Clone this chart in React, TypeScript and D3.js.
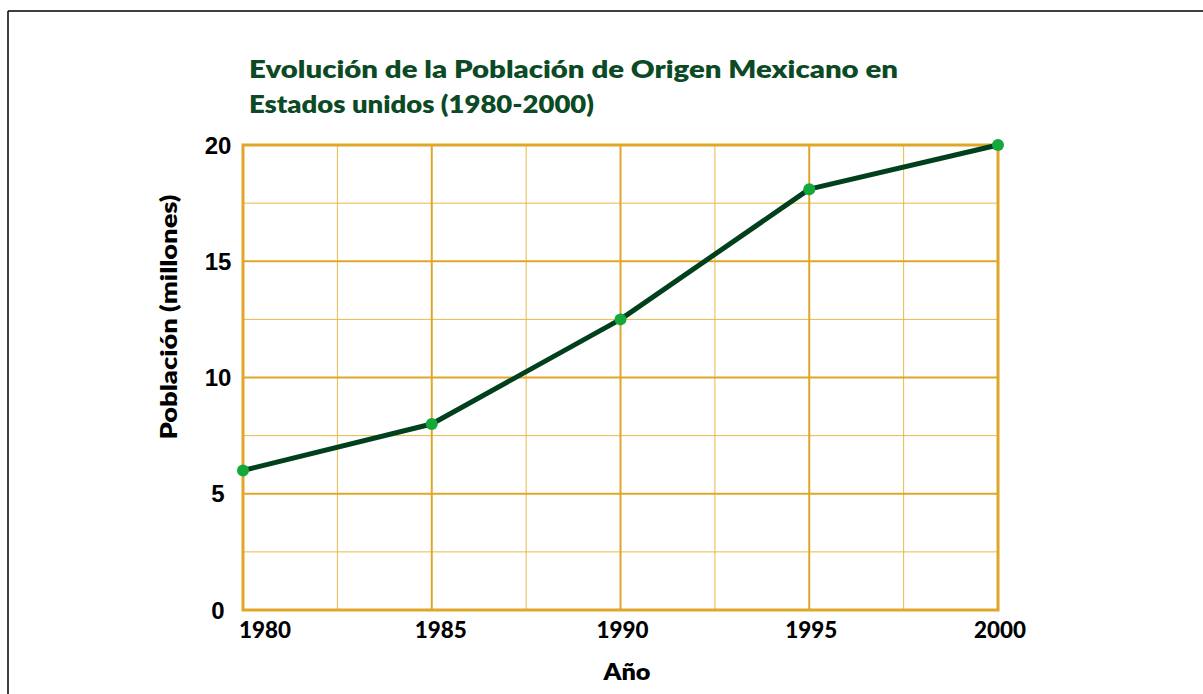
import React from "react";
import * as d3 from "d3";

const years = [1980, 1985, 1990, 1995, 2000];
const population = [6, 8, 12.5, 18.1, 20];
const yTicks = [0, 5, 10, 15, 20];
const yMinor = [2.5, 7.5, 12.5, 17.5];
const xMinor = [1982.5, 1987.5, 1992.5, 1997.5];
const titleLines = ["Evolución de la Población de Origen Mexicano en", "Estados unidos (1980-2000)"];
const xTitle = "Año";
const yTitle = "Población (millones)";

export default function App() {
  const W = 1203, H = 694;
  const x = d3.scaleLinear().domain([1980, 2000]).range([243, 998]);
  const y = d3.scaleLinear().domain([0, 20]).range([610, 145]);
  const pts = years.map((yr, i) => [yr, population[i]] as [number, number]);
  const line = d3.line<[number, number]>().x(d => x(d[0])).y(d => y(d[1]));
  const gold = "#e0a628";
  const goldLight = "#e8b84a";
  const labelFont = "Lato, 'DejaVu Sans', sans-serif";
  return (
    <svg width={W} height={H} style={{ position: "absolute", left: 0, top: 0, background: "#fff" }}>
      <rect x={0} y={0} width={W} height={H} fill="#fff" />
      <line x1={8} y1={11} x2={W} y2={11} stroke="#000" strokeWidth={1.5} />
      <line x1={8} y1={11} x2={8} y2={H} stroke="#000" strokeWidth={1.5} />
      {titleLines.map((t, i) => (
        <text key={t} x={249} y={78 + i * 35} fontFamily={labelFont} fontWeight={800} fontSize={24}
          fill="#0b4a24" textLength={i === 0 ? 649 : 345} lengthAdjust="spacingAndGlyphs">{t}</text>
      ))}
      {yMinor.map(v => (
        <line key={"ym" + v} x1={x(1980)} x2={x(2000)} y1={y(v)} y2={y(v)} stroke={goldLight} strokeWidth={1} />
      ))}
      {xMinor.map(v => (
        <line key={"xm" + v} x1={x(v)} x2={x(v)} y1={y(0)} y2={y(20)} stroke={goldLight} strokeWidth={1} />
      ))}
      {yTicks.slice(1, -1).map(v => (
        <line key={"yg" + v} x1={x(1980)} x2={x(2000)} y1={y(v)} y2={y(v)} stroke={gold} strokeWidth={2} />
      ))}
      {years.slice(1, -1).map(v => (
        <line key={"xg" + v} x1={x(v)} x2={x(v)} y1={y(0)} y2={y(20)} stroke={gold} strokeWidth={2} />
      ))}
      <rect x={x(1980)} y={y(20)} width={x(2000) - x(1980)} height={y(0) - y(20)} fill="none" stroke={gold} strokeWidth={3} />
      <path d={line(pts) || ""} fill="none" stroke="#00401c" strokeWidth={5} strokeLinejoin="round" />
      {pts.map(p => (
        <circle key={p[0]} cx={x(p[0])} cy={y(p[1])} r={6} fill="#14a83c" />
      ))}
      {yTicks.map(v => (
        <text key={"yt" + v} x={218} y={y(v)} dy="0.36em" textAnchor="middle" fontFamily="'Liberation Sans', Arial, sans-serif"
          fontWeight={700} fontSize={24} fill="#000">{v}</text>
      ))}
      {years.map((v, i) => (
        <text key={"xt" + v} x={i === 0 ? x(v) - 4 : x(v) + (i === 1 ? 9 : 2)} y={638}
          textAnchor={i === 0 ? "start" : "middle"} fontFamily={labelFont} fontWeight={900} fontSize={22} fill="#000"
          textLength={52} lengthAdjust="spacingAndGlyphs">{v}</text>
      ))}
      <text x={627} y={680} textAnchor="middle" fontFamily={labelFont} fontWeight={800} fontSize={23} fill="#000"
        textLength={47} lengthAdjust="spacingAndGlyphs">{xTitle}</text>
      <text transform="translate(177,317) rotate(-90)" textAnchor="middle" fontFamily={labelFont} fontWeight={800}
        fontSize={22} fill="#000" textLength={245} lengthAdjust="spacingAndGlyphs">{yTitle}</text>
    </svg>
  );
}
